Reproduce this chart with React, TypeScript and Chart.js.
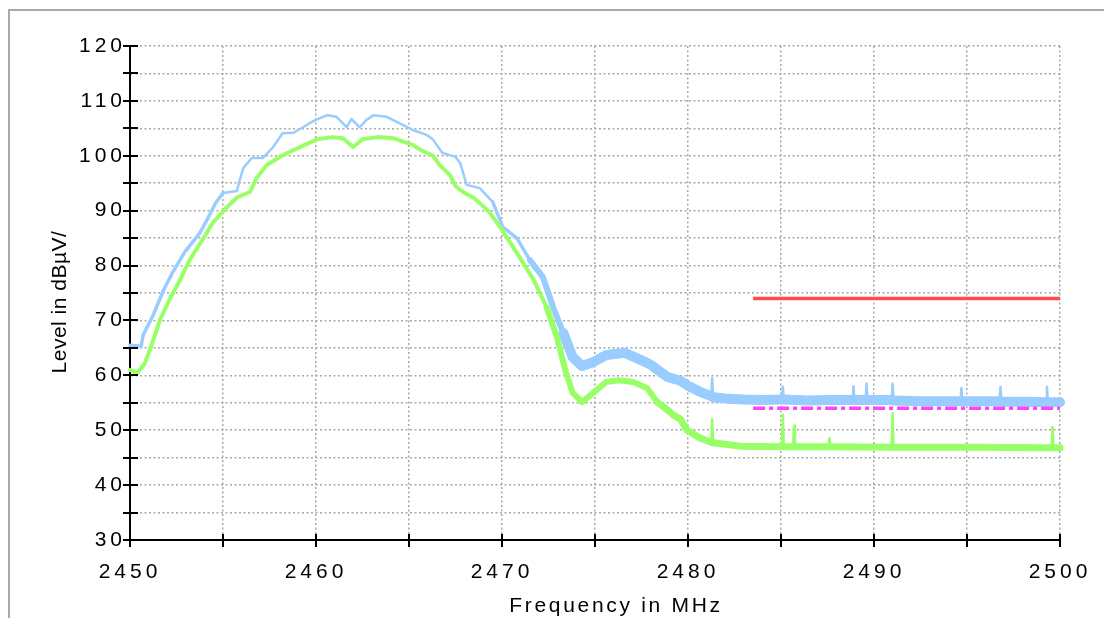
import React, { useEffect, useRef } from 'react';
import { Chart, registerables } from 'chart.js';

Chart.register(...registerables);

// ---- labels ----
const X_TITLE = 'Frequency in MHz';
const Y_TITLE = 'Level in dBµV/';
const xTickLabels = [2450, 2460, 2470, 2480, 2490, 2500];
const yTickLabels = [30, 40, 50, 60, 70, 80, 90, 100, 110, 120];

// ---- peak trace (light blue) ----
const peakFreq = [
  2450.0, 2450.6, 2450.7, 2451.25, 2451.8, 2452.3, 2452.95, 2453.75, 2454.2, 2454.6,
  2455.0, 2455.75, 2455.9, 2456.1, 2456.55, 2457.15, 2457.7, 2458.2, 2458.8, 2459.3,
  2459.85, 2460.6, 2461.1, 2461.65, 2461.9, 2462.35, 2462.7, 2463.1, 2463.8, 2464.5,
  2465.2, 2465.95, 2466.3, 2466.8, 2467.5, 2467.75, 2468.1, 2468.8, 2469.5, 2470.05,
  2470.8, 2471.5, 2472.2, 2472.75, 2473.3, 2473.8, 2474.3, 2474.9, 2475.6, 2476.6,
  2477.6, 2478.0, 2478.9, 2479.6, 2479.95, 2480.65, 2481.25, 2481.3, 2481.35, 2482.0,
  2483.0, 2484.0, 2485.05, 2485.1, 2485.15, 2486.5, 2487.5, 2488.85, 2488.9, 2488.95,
  2489.55, 2489.6, 2489.65, 2490.95, 2491.0, 2491.05, 2492.5, 2494.65, 2494.7, 2494.75,
  2495.8, 2496.75, 2496.8, 2496.85, 2498.0, 2499.25, 2499.3, 2499.35, 2500.0,
];
const peakLevel = [
  65.5, 65.3, 67.3, 71.0, 75.5, 78.8, 82.5, 85.9, 88.7, 91.4,
  93.2, 93.6, 95.6, 97.8, 99.6, 99.6, 101.6, 104.1, 104.2, 105.2,
  106.3, 107.4, 107.1, 105.2, 106.7, 105.2, 106.5, 107.4, 107.1, 105.9,
  104.7, 103.8, 102.9, 100.5, 99.8, 98.7, 94.7, 94.1, 91.6, 87.0,
  85.0, 81.0, 77.9, 72.4, 67.7, 63.3, 61.7, 62.4, 63.7, 64.1,
  62.6, 61.9, 59.7, 59.0, 58.2, 57.0, 56.2, 59.5, 56.0, 55.8,
  55.6, 55.5, 55.6, 57.9, 55.6, 55.4, 55.5, 55.5, 58.0, 55.5,
  55.5, 58.5, 55.5, 55.5, 58.5, 55.4, 55.3, 55.3, 57.7, 55.3,
  55.3, 55.3, 57.9, 55.2, 55.2, 55.1, 57.9, 55.1, 55.1,
];

// ---- average trace (green) ----
const avgFreq = [
  2450.0, 2450.4, 2450.8, 2451.2, 2451.6, 2452.15, 2452.7, 2453.2, 2453.9, 2454.45,
  2455.2, 2455.75, 2456.45, 2456.8, 2457.35, 2458.2, 2459.15, 2460.05, 2460.9, 2461.45,
  2462.0, 2462.5, 2463.3, 2464.15, 2465.2, 2465.6, 2466.3, 2466.65, 2467.2, 2467.5,
  2467.75, 2468.1, 2468.45, 2469.0, 2469.35, 2469.9, 2470.8, 2471.7, 2472.4, 2472.95,
  2473.4, 2473.8, 2474.3, 2474.9, 2475.6, 2476.3, 2477.05, 2477.8, 2478.35, 2478.9,
  2479.2, 2479.6, 2479.95, 2480.65, 2481.25, 2481.3, 2481.35, 2482.8, 2485.05, 2485.1,
  2485.15, 2485.65, 2485.7, 2485.75, 2487.55, 2487.6, 2487.65, 2490.95, 2491.0, 2491.05,
  2495.0, 2499.55, 2499.6, 2499.65, 2500.0,
];
const avgLevel = [
  61.0, 60.4, 62.2, 65.9, 70.0, 74.0, 77.4, 81.0, 84.7, 87.8,
  90.6, 92.4, 93.4, 95.9, 98.3, 100.1, 101.6, 103.0, 103.4, 103.2,
  101.6, 103.0, 103.4, 103.2, 102.0, 101.1, 100.0, 98.3, 96.5, 94.5,
  93.8, 93.0, 92.4, 90.8, 89.6, 87.0, 82.3, 77.4, 72.4, 67.0,
  61.0, 56.8, 55.1, 56.8, 58.8, 59.1, 58.8, 57.7, 55.1, 53.7,
  52.8, 52.0, 50.0, 48.6, 47.8, 52.0, 47.7, 47.1, 47.0, 52.8,
  47.0, 47.0, 50.8, 47.0, 47.0, 48.6, 47.0, 46.9, 53.1, 46.9,
  46.9, 46.8, 50.6, 46.8, 46.8,
];

// ---- limit lines ----
const peakLimitFreq = [2483.5, 2500];
const peakLimitLevel = [74, 74];
const avgLimitFreq = [2483.5, 2500];
const avgLimitLevel = [54, 54];

const FONT = '"Liberation Sans", Arial, Helvetica, sans-serif';

const toPoints = (xs: number[], ys: number[]) => xs.map((x, i) => ({ x, y: ys[i] }));

const isSpike = (c: any) => c.p1.parsed.x - c.p0.parsed.x < 0.1 && c.p0.parsed.x > 2480.8;

const peakWidth = (c: any) => {
  if (isSpike(c)) return 2.5;
  const f = c.p0.parsed.x;
  if (f < 2455) return 3.5;
  if (f < 2469) return 2.5;
  if (f < 2471) return 3.5;
  if (f < 2473) return 6;
  return 10;
};

const avgWidth = (c: any) => {
  if (isSpike(c)) return 2.5;
  const f = c.p0.parsed.x;
  if (f < 2472) return 4;
  if (f < 2478) return 6;
  return 7;
};

const decorPlugin = {
  id: 'decor',
  beforeDraw(chart: any) {
    chart.ctx.letterSpacing = '4px';
  },
  afterDraw(chart: any) {
    const ctx = chart.ctx as CanvasRenderingContext2D & { letterSpacing: string };
    const xs = chart.scales.x;
    const ys = chart.scales.y;
    const area = chart.chartArea;
    ctx.save();
    ctx.letterSpacing = '0px';
    ctx.strokeStyle = '#000';
    ctx.lineWidth = 2;
    ctx.beginPath();
    xs.ticks.forEach((t: any) => {
      const px = Math.round(xs.getPixelForValue(t.value));
      ctx.moveTo(px, area.bottom - 6);
      ctx.lineTo(px, area.bottom + 7);
    });
    ys.ticks.forEach((t: any) => {
      const py = Math.round(ys.getPixelForValue(t.value));
      ctx.moveTo(area.left - 7, py);
      ctx.lineTo(area.left + 8, py);
    });
    ctx.stroke();

    ctx.fillStyle = '#000';
    ctx.textAlign = 'center';
    ctx.textBaseline = 'middle';
    ctx.font = `21px ${FONT}`;
    ctx.letterSpacing = '2.7px';
    ctx.fillText(X_TITLE, (area.left + area.right) / 2 + 21, area.bottom + 66);

    ctx.letterSpacing = '0.5px';
    ctx.translate(area.left - 70, (area.top + area.bottom) / 2 + 9);
    ctx.rotate(-Math.PI / 2);
    ctx.fillText(Y_TITLE, 0, 0);
    ctx.restore();
  },
};

export default function App() {
  const ref = useRef<HTMLCanvasElement>(null);

  useEffect(() => {
    document.body.style.overflow = 'hidden';
    const canvas = ref.current!;
    const chart = new Chart(canvas, {
      type: 'line',
      data: {
        datasets: [
          {
            label: 'Peak limit',
            data: toPoints(peakLimitFreq, peakLimitLevel),
            borderColor: '#ff4d4d',
            borderWidth: 3.5,
            pointRadius: 0,
            order: 0,
          },
          {
            label: 'Average limit',
            data: toPoints(avgLimitFreq, avgLimitLevel),
            borderColor: '#ff44ff',
            borderWidth: 3.5,
            borderDash: [12, 4, 4, 4],
            pointRadius: 0,
            order: 1,
          },
          {
            label: 'Average',
            data: toPoints(avgFreq, avgLevel),
            borderColor: '#99ff66',
            borderWidth: 4,
            pointRadius: 0,
            borderJoinStyle: 'round',
            borderCapStyle: 'round',
            clip: false,
            segment: { borderWidth: avgWidth },
            order: 2,
          },
          {
            label: 'Peak',
            data: toPoints(peakFreq, peakLevel),
            borderColor: '#99ccff',
            borderWidth: 2.5,
            pointRadius: 0,
            borderJoinStyle: 'round',
            borderCapStyle: 'round',
            clip: false,
            segment: { borderWidth: peakWidth },
            order: 3,
          },
        ] as any,
      },
      options: {
        responsive: false,
        devicePixelRatio: 1,
        animation: false,
        events: [],
        layout: { padding: { left: 0, top: 46, right: 44, bottom: 0 } },
        plugins: { legend: { display: false }, tooltip: { enabled: false } },
        scales: {
          x: {
            type: 'linear',
            min: 2450,
            max: 2500,
            afterFit: (s: any) => { s.height = 78; },
            ticks: {
              stepSize: 5,
              autoSkip: false,
              maxRotation: 0,
              padding: 20,
              color: '#000',
              font: { family: FONT, size: 21 },
              callback: (v: any) => (xTickLabels.includes(Number(v)) ? String(v) : ''),
            },
            grid: { color: '#a8a8a8', lineWidth: 1.5, drawTicks: false },
            border: { display: true, color: '#000', width: 2, dash: [2, 2.5] },
          },
          y: {
            type: 'linear',
            min: 30,
            max: 120,
            afterFit: (s: any) => { s.width = 130; },
            ticks: {
              stepSize: 5,
              autoSkip: false,
              padding: 4,
              color: '#000',
              font: { family: FONT, size: 21 },
              callback: (v: any) => (yTickLabels.includes(Number(v)) ? String(v) : ''),
            },
            grid: { color: '#a8a8a8', lineWidth: 1.5, drawTicks: false },
            border: { display: true, color: '#000', width: 2, dash: [2, 2.5] },
          },
        },
      } as any,
      plugins: [decorPlugin],
    });
    return () => chart.destroy();
  }, []);

  return (
    <div>
      <div
        style={{
          position: 'absolute',
          left: 8,
          top: 9,
          width: 1096,
          height: 609,
          borderTop: '2px solid #aaaaaa',
          borderLeft: '2px solid #aaaaaa',
          boxSizing: 'border-box',
        }}
      />
      <canvas
        ref={ref}
        width={1104}
        height={618}
        style={{ position: 'absolute', left: 0, top: 0, width: 1104, height: 618 }}
      />
    </div>
  );
}
